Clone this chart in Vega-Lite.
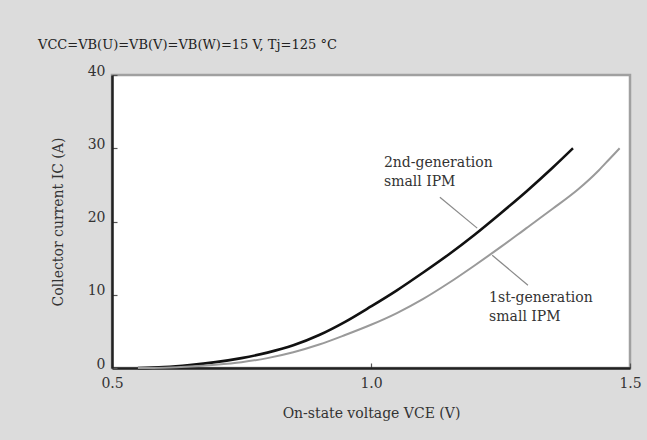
{
  "$schema": "https://vega.github.io/schema/vega-lite/v6.json",
  "autosize": "none",
  "width": 518,
  "height": 293,
  "padding": {"left": 112, "top": 75, "right": 17, "bottom": 72},
  "background": "#dcdcdc",
  "title": {
    "text": "VCC=VB(U)=VB(V)=VB(W)=15 V, Tj=125 °C",
    "anchor": "start",
    "frame": "group",
    "dx": -74,
    "offset": 12,
    "font": "DejaVu Serif",
    "fontSize": 13,
    "fontWeight": "normal",
    "color": "#222222"
  },
  "config": {
    "view": {"fill": "white", "stroke": "#a0a0a0", "strokeWidth": 2.5},
    "axis": {
      "labelFont": "DejaVu Serif",
      "labelFontSize": 14,
      "labelColor": "#333333",
      "titleFont": "DejaVu Serif",
      "titleFontSize": 14,
      "titleFontWeight": "normal",
      "titleColor": "#333333",
      "domainColor": "#222222",
      "domainWidth": 2.5,
      "tickColor": "#555555",
      "tickWidth": 1.2,
      "grid": false
    }
  },
  "datasets": {
    "curves": [
      {"gen": "2nd", "v": 0.55, "I": 0.0},
      {"gen": "2nd", "v": 0.60, "I": 0.12},
      {"gen": "2nd", "v": 0.65, "I": 0.4},
      {"gen": "2nd", "v": 0.70, "I": 0.8},
      {"gen": "2nd", "v": 0.75, "I": 1.35},
      {"gen": "2nd", "v": 0.80, "I": 2.1},
      {"gen": "2nd", "v": 0.85, "I": 3.1},
      {"gen": "2nd", "v": 0.90, "I": 4.5},
      {"gen": "2nd", "v": 0.95, "I": 6.3},
      {"gen": "2nd", "v": 1.00, "I": 8.4},
      {"gen": "2nd", "v": 1.05, "I": 10.6},
      {"gen": "2nd", "v": 1.10, "I": 13.0},
      {"gen": "2nd", "v": 1.15, "I": 15.5},
      {"gen": "2nd", "v": 1.20, "I": 18.2},
      {"gen": "2nd", "v": 1.25, "I": 21.1},
      {"gen": "2nd", "v": 1.30, "I": 24.1},
      {"gen": "2nd", "v": 1.35, "I": 27.3},
      {"gen": "2nd", "v": 1.39, "I": 30.0},
      {"gen": "1st", "v": 0.55, "I": 0.0},
      {"gen": "1st", "v": 0.60, "I": 0.05},
      {"gen": "1st", "v": 0.65, "I": 0.2},
      {"gen": "1st", "v": 0.70, "I": 0.45},
      {"gen": "1st", "v": 0.75, "I": 0.8},
      {"gen": "1st", "v": 0.80, "I": 1.35},
      {"gen": "1st", "v": 0.85, "I": 2.15},
      {"gen": "1st", "v": 0.90, "I": 3.2},
      {"gen": "1st", "v": 0.95, "I": 4.5},
      {"gen": "1st", "v": 1.00, "I": 5.9},
      {"gen": "1st", "v": 1.05, "I": 7.5},
      {"gen": "1st", "v": 1.10, "I": 9.4},
      {"gen": "1st", "v": 1.15, "I": 11.6},
      {"gen": "1st", "v": 1.20, "I": 14.0},
      {"gen": "1st", "v": 1.25, "I": 16.5},
      {"gen": "1st", "v": 1.30, "I": 19.1},
      {"gen": "1st", "v": 1.35, "I": 21.7},
      {"gen": "1st", "v": 1.40, "I": 24.4},
      {"gen": "1st", "v": 1.44, "I": 27.0},
      {"gen": "1st", "v": 1.46, "I": 28.5},
      {"gen": "1st", "v": 1.48, "I": 30.0}
    ],
    "leaders": [
      {"gen": "2nd", "v": 1.133, "I": 23.3, "v2": 1.205, "I2": 19.1},
      {"gen": "1st", "v": 1.234, "I": 15.4, "v2": 1.303, "I2": 11.3}
    ],
    "labels": [
      {"gen": "2nd", "v": 1.025, "I": 28.0, "label": "2nd-generation"},
      {"gen": "2nd", "v": 1.025, "I": 25.4, "label": "small IPM"},
      {"gen": "1st", "v": 1.228, "I": 9.5, "label": "1st-generation"},
      {"gen": "1st", "v": 1.228, "I": 6.9, "label": "small IPM"}
    ]
  },
  "layer": [
    {
      "data": {"name": "curves"},
      "mark": {"type": "line", "interpolate": "monotone"},
      "encoding": {
        "x": {
          "field": "v", "type": "quantitative",
          "scale": {"domain": [0.5, 1.5], "nice": false, "zero": false},
          "axis": {
            "title": "On-state voltage VCE (V)",
            "values": [0.5, 1.0, 1.5],
            "format": ".1f",
            "tickSize": -5,
            "labelPadding": 13,
            "titlePadding": 16,
            "labelFlush": false
          }
        },
        "y": {
          "field": "I", "type": "quantitative",
          "scale": {"domain": [0, 40], "nice": false},
          "axis": {
            "title": "Collector current IC (A)",
            "values": [0, 10, 20, 30, 40],
            "tickSize": -5,
            "labelPadding": 12,
            "labelOffset": -4,
            "titlePadding": 22,
            "labelFlush": false
          }
        },
        "color": {
          "field": "gen", "type": "nominal",
          "scale": {"domain": ["2nd", "1st"], "range": ["#111111", "#9a9a9a"]},
          "legend": null
        },
        "strokeWidth": {
          "field": "gen", "type": "nominal",
          "scale": {"domain": ["2nd", "1st"], "range": [2.6, 2.0]},
          "legend": null
        }
      }
    },
    {
      "data": {"name": "leaders"},
      "mark": {"type": "rule", "color": "#8a8a8a", "strokeWidth": 1.2},
      "encoding": {
        "x": {"field": "v", "type": "quantitative"},
        "y": {"field": "I", "type": "quantitative"},
        "x2": {"field": "v2"},
        "y2": {"field": "I2"}
      }
    },
    {
      "data": {"name": "labels"},
      "mark": {"type": "text", "align": "left", "baseline": "middle", "font": "DejaVu Serif", "fontSize": 14, "color": "#333333"},
      "encoding": {
        "x": {"field": "v", "type": "quantitative"},
        "y": {"field": "I", "type": "quantitative"},
        "text": {"field": "label"}
      }
    }
  ]
}
